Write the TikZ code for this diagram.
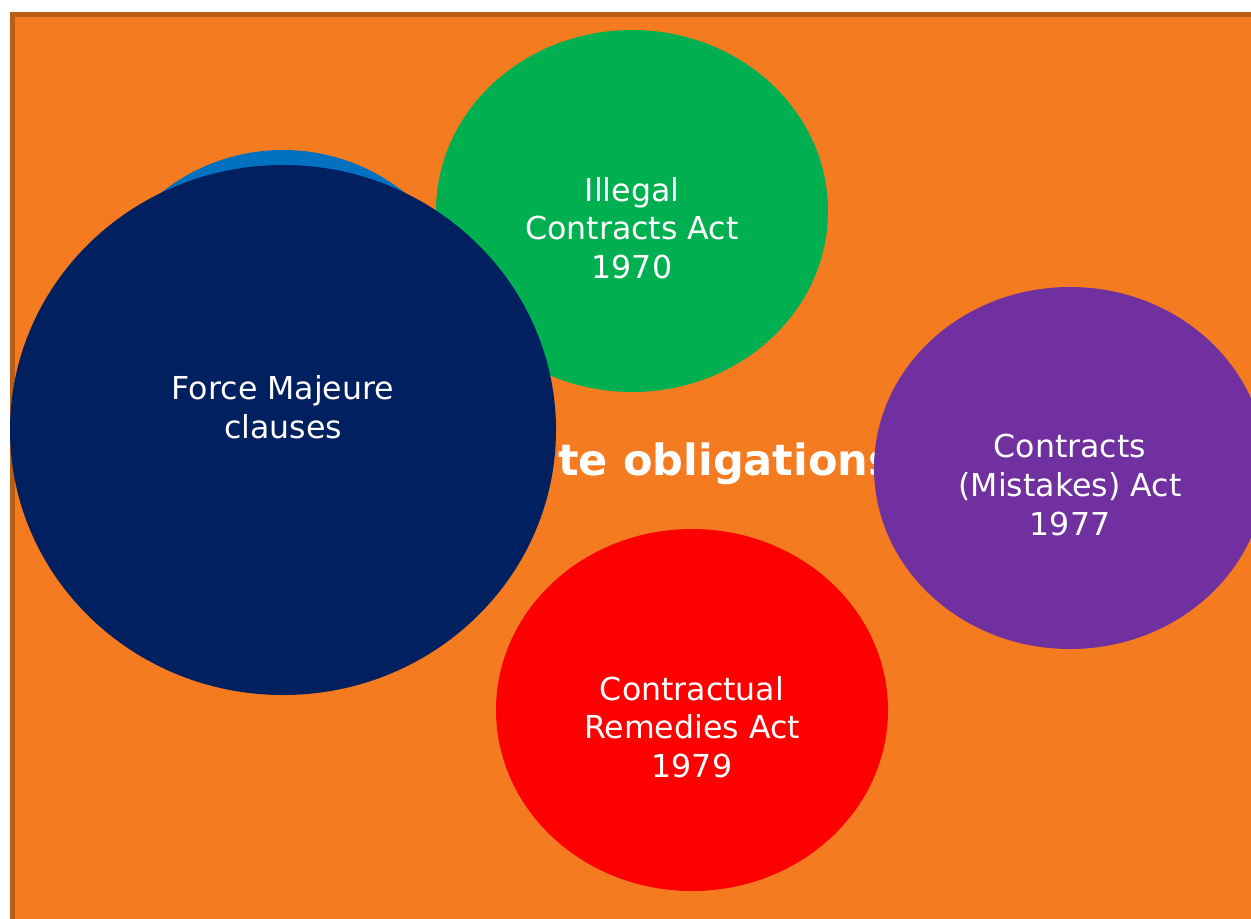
\documentclass[tikz,border=0pt]{standalone}
\usepackage{fontspec}
\setmainfont{DejaVu Sans}
\definecolor{bgorange}{RGB}{244,123,32}
\definecolor{bgedge}{RGB}{186,94,22}
\definecolor{actgreen}{RGB}{0,176,80}
\definecolor{actblue}{RGB}{0,112,192}
\definecolor{actnavy}{RGB}{0,32,96}
\definecolor{actpurple}{RGB}{112,48,160}
\definecolor{actred}{RGB}{255,0,0}

\begin{document}
\begin{tikzpicture}[x=0.75pt,y=0.75pt,yscale=-1,xscale=1,
    bubbletext/.style={text=white,align=center,inner sep=0.75pt,font=\fontsize{23.7}{28.9}\selectfont},
    headtext/.style={text=white,inner sep=0.75pt,font=\bfseries\fontsize{32.3}{38}\selectfont}]
    \useasboundingbox (0,0) rectangle (1251,918);
    \fill [white] (0,0) rectangle (1251,918);
    \fill [bgedge] (10,12) rectangle (1270,930);
    \fill [bgorange] (15,17) rectangle (1270,930);
    \draw (557,475) node [anchor=base west][headtext] (head) {te obligations};
    \fill [actgreen] (632,211) ellipse [x radius=196, y radius=181];
    \fill [actblue] (283,345) ellipse [x radius=195, y radius=195];
    \fill [actnavy] (283,430) ellipse [x radius=273, y radius=265];
    \fill [actred] (692,710) ellipse [x radius=196, y radius=181];
    \fill [actpurple] (1070,468) ellipse [x radius=196, y radius=181];
    \draw (283,407) node [bubbletext] (force) {Force Majeure\\clauses};
    \draw (632,228) node [bubbletext] (illegal) {Illegal\\Contracts Act\\1970};
    \draw (1070,485) node [bubbletext] (mistakes) {Contracts\\(Mistakes) Act\\1977};
    \draw (692,727) node [bubbletext] (remedies) {Contractual\\Remedies Act\\1979};
\end{tikzpicture}
\end{document}
